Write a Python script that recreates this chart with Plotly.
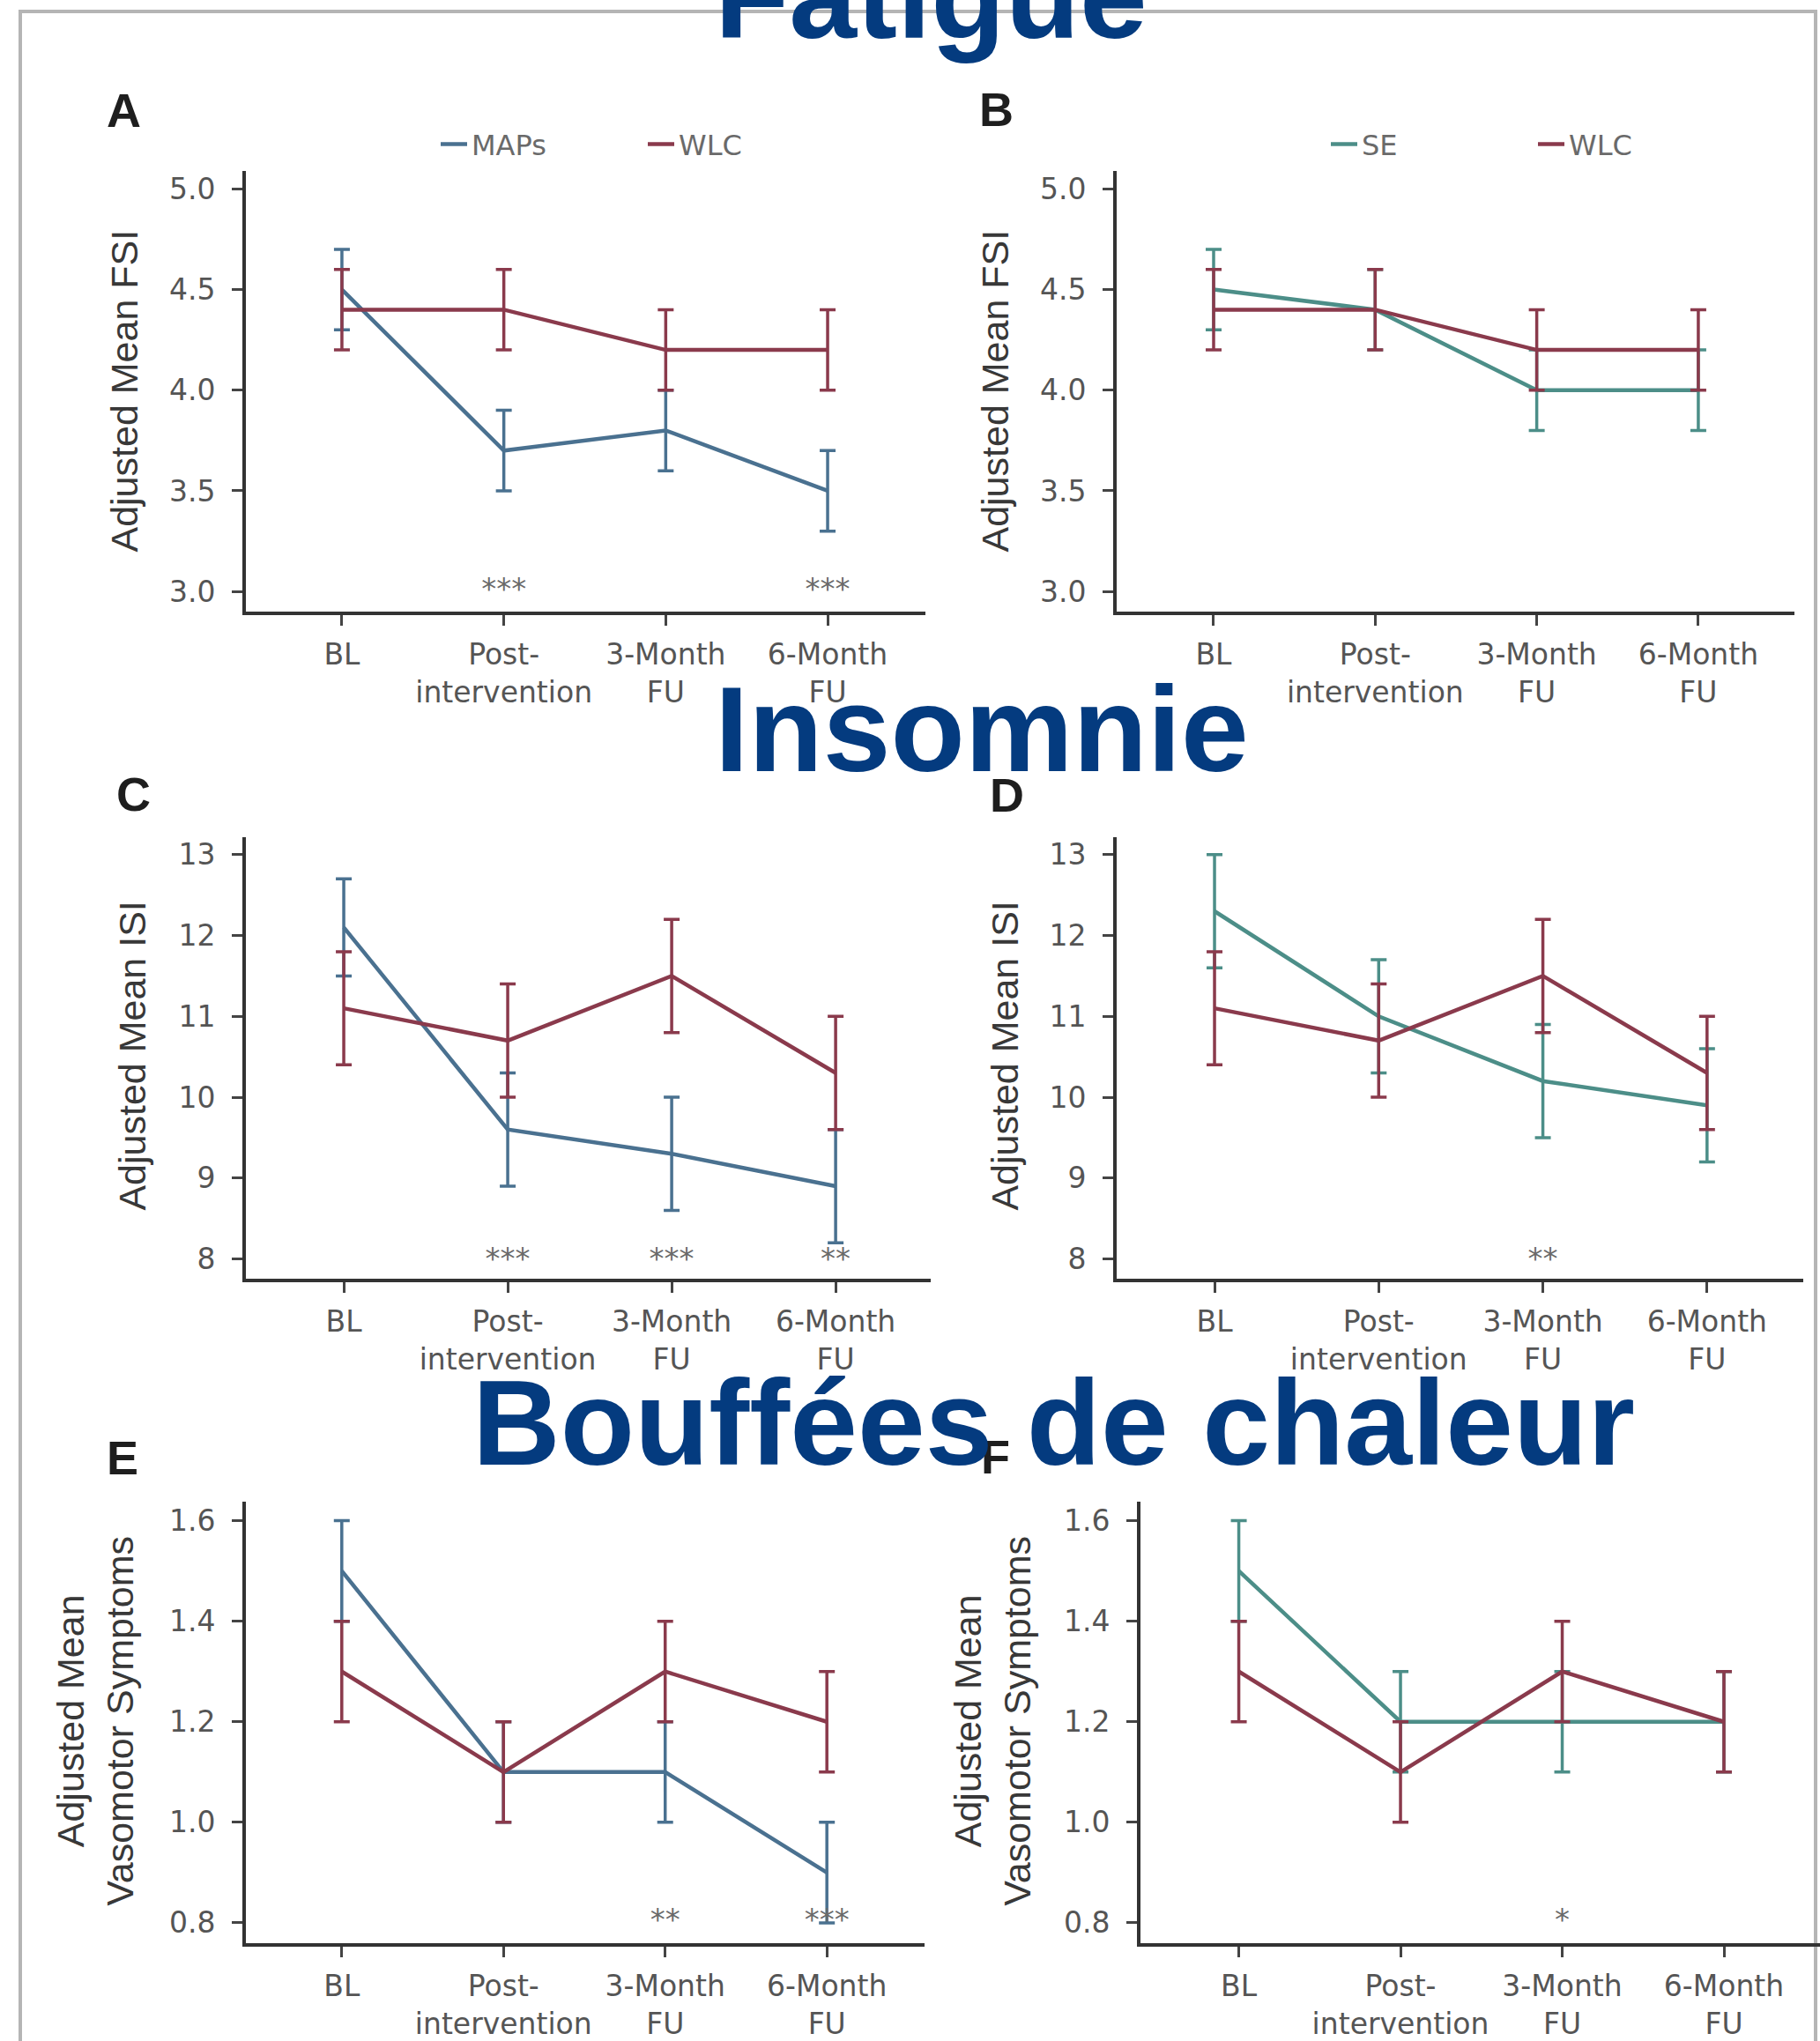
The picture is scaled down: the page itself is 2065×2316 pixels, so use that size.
import plotly.graph_objects as go

W, H = 2065, 2316

# ---------------- data ----------------
categories = ["BL", "Post-<br>intervention", "3-Month<br>FU", "6-Month<br>FU"]

# Fatigue (FSI)
fsi_maps_mean = [4.5, 3.7, 3.8, 3.5]
fsi_maps_err = [0.2, 0.2, 0.2, 0.2]
fsi_wlc_mean = [4.4, 4.4, 4.2, 4.2]
fsi_wlc_err = [0.2, 0.2, 0.2, 0.2]
fsi_se_mean = [4.5, 4.4, 4.0, 4.0]
fsi_se_err = [0.2, 0.2, 0.2, 0.2]

# Insomnia (ISI)
isi_maps_mean = [12.1, 9.6, 9.3, 8.9]
isi_maps_err = [0.6, 0.7, 0.7, 0.7]
isi_wlc_mean = [11.1, 10.7, 11.5, 10.3]
isi_wlc_err = [0.7, 0.7, 0.7, 0.7]
isi_se_mean = [12.3, 11.0, 10.2, 9.9]
isi_se_err = [0.7, 0.7, 0.7, 0.7]

# Hot flashes (vasomotor symptoms)
vms_maps_mean = [1.5, 1.1, 1.1, 0.9]
vms_maps_err = [0.1, 0.1, 0.1, 0.1]
vms_wlc_mean = [1.3, 1.1, 1.3, 1.2]
vms_wlc_err = [0.1, 0.1, 0.1, 0.1]
vms_se_mean = [1.5, 1.2, 1.2, 1.2]
vms_se_err = [0.1, 0.1, 0.1, 0.1]

# significance markers
sig_A = ["", "***", "", "***"]
sig_B = ["", "", "", ""]
sig_C = ["", "***", "***", "**"]
sig_D = ["", "", "**", ""]
sig_E = ["", "", "**", "***"]
sig_F = ["", "", "*", ""]
sig_y_fsi = [3.0, 3.0, 3.0, 3.0]
sig_y_isi = [7.97, 7.97, 7.97, 7.97]
sig_y_vms = [0.80, 0.80, 0.80, 0.80]

fsi_ticks = [3.0, 3.5, 4.0, 4.5, 5.0]
isi_ticks = [8, 9, 10, 11, 12, 13]
vms_ticks = [0.8, 1.0, 1.2, 1.4, 1.6]

# ---------------- style ----------------
COL_MAPS = "#4a7190"
COL_WLC = "#8a3a4c"
COL_SE = "#4c8e88"
AX = "#333333"
TICKC = "#555555"
TITLEC = "#383838"
BIG = "#043b7f"

fig = go.Figure()

def add_series(mean, err, color, name, ax, legend=None):
    fig.add_trace(go.Scatter(
        x=categories, y=mean, mode="lines", name=name,
        line=dict(color=color, width=4.5),
        error_y=dict(type="data", array=err, visible=True, color=color,
                     thickness=3.5, width=9),
        xaxis="x" + ax, yaxis="y" + ax,
        showlegend=legend is not None,
        legend=legend if legend else "legend",
    ))

def add_sig(texts, ys, ax):
    fig.add_trace(go.Scatter(
        x=categories, y=ys, mode="text", text=texts,
        textfont=dict(family="DejaVu Sans", size=34, color="#6a6a6a"),
        textposition="middle center", showlegend=False,
        xaxis="x" + ax, yaxis="y" + ax, hoverinfo="skip",
    ))

# A
add_series(fsi_maps_mean, fsi_maps_err, COL_MAPS, "MAPs", "", "legend")
add_series(fsi_wlc_mean, fsi_wlc_err, COL_WLC, "WLC", "", "legend")
add_sig(sig_A, sig_y_fsi, "")
# B
add_series(fsi_se_mean, fsi_se_err, COL_SE, "SE", "2", "legend2")
add_series(fsi_wlc_mean, fsi_wlc_err, COL_WLC, "WLC", "2", "legend2")
add_sig(sig_B, sig_y_fsi, "2")
# C
add_series(isi_maps_mean, isi_maps_err, COL_MAPS, "MAPs", "3")
add_series(isi_wlc_mean, isi_wlc_err, COL_WLC, "WLC", "3")
add_sig(sig_C, sig_y_isi, "3")
# D
add_series(isi_se_mean, isi_se_err, COL_SE, "SE", "4")
add_series(isi_wlc_mean, isi_wlc_err, COL_WLC, "WLC", "4")
add_sig(sig_D, sig_y_isi, "4")
# E
add_series(vms_maps_mean, vms_maps_err, COL_MAPS, "MAPs", "5")
add_series(vms_wlc_mean, vms_wlc_err, COL_WLC, "WLC", "5")
add_sig(sig_E, sig_y_vms, "5")
# F
add_series(vms_se_mean, vms_se_err, COL_SE, "SE", "6")
add_series(vms_wlc_mean, vms_wlc_err, COL_WLC, "WLC", "6")
add_sig(sig_F, sig_y_vms, "6")

# panel pixel boxes: (left, right, top, bottom)
boxes = {
    "": (279, 1050, 196, 699),
    "2": (1267, 2036, 196, 699),
    "3": (279, 1056, 957, 1462),
    "4": (1267, 2046, 957, 1462),
    "5": (279, 1049, 1717, 2222),
    "6": (1294, 2065, 1717, 2222),
}
xranges = {"": [-0.593, 3.604], "2": [-0.6, 3.595], "3": [-0.597, 3.58],
           "4": [-0.596, 3.586], "5": [-0.593, 3.604], "6": [-0.608, 3.594]}
yranges = {"": [2.902, 5.087], "2": [2.902, 5.087], "3": [7.76, 13.22],
           "4": [7.76, 13.22], "5": [0.76, 1.6385], "6": [0.76, 1.6385]}
yticks = {"": fsi_ticks, "2": fsi_ticks, "3": isi_ticks, "4": isi_ticks,
          "5": vms_ticks, "6": vms_ticks}
yfmt = {"": ".1f", "2": ".1f", "3": "d", "4": "d", "5": ".1f", "6": ".1f"}

layout_axes = {}
for k, (l, r, t, b) in boxes.items():
    layout_axes["xaxis" + k] = dict(
        domain=[l / W, min(r / W, 1.0)], range=xranges[k], type="category",
        anchor="y" + k, showline=True, linecolor=AX, linewidth=4,
        ticks="outside", ticklen=12, tickwidth=3, tickcolor="#444",
        tickfont=dict(family="DejaVu Sans", size=33, color=TICKC),
        ticklabelstandoff=5,
        showgrid=False, zeroline=False, fixedrange=True,
    )
    layout_axes["yaxis" + k] = dict(
        domain=[1 - b / H, 1 - t / H], range=yranges[k], anchor="x" + k,
        tickvals=yticks[k], tickformat=yfmt[k],
        showline=True, linecolor=AX, linewidth=4,
        ticks="outside", ticklen=12, tickwidth=3, tickcolor="#444",
        tickfont=dict(family="DejaVu Sans", size=33, color=TICKC),
        ticklabelstandoff=12,
        showgrid=False, zeroline=False, fixedrange=True,
    )

annotations = []
# y-axis titles
ytitles = [
    (141, 447, "Adjusted Mean FSI"),
    (1129, 447, "Adjusted Mean FSI"),
    (150, 1208, "Adjusted Mean ISI"),
    (1140, 1208, "Adjusted Mean ISI"),
    (108, 1968, "Adjusted Mean<br>Vasomotor Symptoms"),
    (1126, 1968, "Adjusted Mean<br>Vasomotor Symptoms"),
]
for x, y, txt in ytitles:
    annotations.append(dict(
        x=x / W, y=1 - y / H, xref="paper", yref="paper", text=txt,
        textangle=-90, showarrow=False, xanchor="center", yanchor="middle",
        font=dict(family="Liberation Sans", size=43, color=TITLEC)))

# panel letters
letters = [(140, 126, "A"), (1130, 125, "B"), (151, 908, "C"),
           (1142, 909, "D"), (139, 1667, "E"), (1129, 1666, "F")]
for x, y, txt in letters:
    annotations.append(dict(
        x=x / W, y=1 - y / H, xref="paper", yref="paper", text="<b>" + txt + "</b>",
        showarrow=False, xanchor="center", yanchor="middle",
        font=dict(family="Liberation Sans", size=54, color="#1e1e1e")))

# big section titles
big = [(1056, -5, "Fatigue"), (1114, 833, "Insomnie"), (1195, 1627, "Bouffées de chaleur")]
for x, y, txt in big:
    annotations.append(dict(
        x=x / W, y=1 - y / H, xref="paper", yref="paper", text="<b>" + txt + "</b>",
        showarrow=False, xanchor="center", yanchor="middle",
        font=dict(family="Liberation Sans", size=138, color=BIG)))

leg_common = dict(orientation="h", xanchor="left", yanchor="middle",
                  font=dict(family="DejaVu Sans", size=32, color="#6a6a6a"),
                  bgcolor="rgba(0,0,0,0)", borderwidth=0, itemwidth=30,
                  entrywidth=190, entrywidthmode="pixels",
                  tracegroupgap=0)

fig.update_layout(
    width=W, height=H, margin=dict(l=0, r=0, t=0, b=0),
    paper_bgcolor="white", plot_bgcolor="white",
    annotations=annotations,
    legend=dict(x=495 / W, y=1 - 165 / H, **leg_common),
    legend2=dict(x=1505 / W, y=1 - 165 / H, **leg_common),
    shapes=[dict(type="rect", xref="paper", yref="paper",
                 x0=23 / W, x1=2060 / W, y0=-0.05, y1=1 - 13 / H,
                 line=dict(color="#b5b5b5", width=4), layer="below")],
    **layout_axes,
)

fig.write_html("out.html")
